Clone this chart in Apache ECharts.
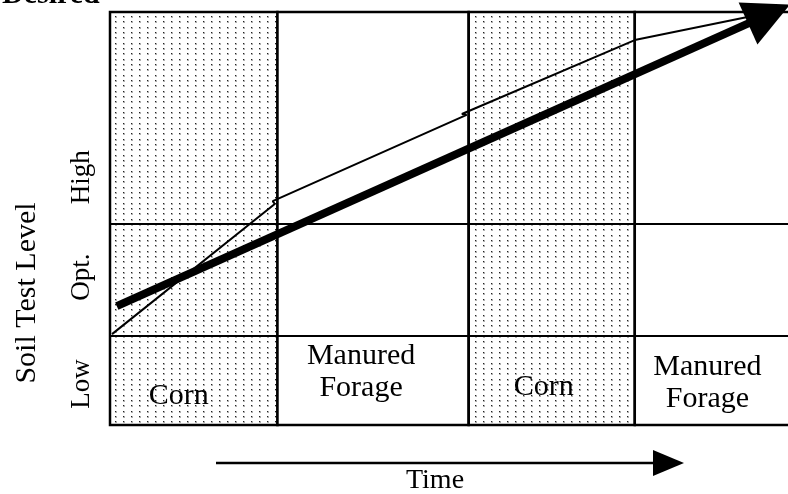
<!DOCTYPE html>
<html>
<head>
<meta charset="utf-8">
<script src="https://cdn.jsdelivr.net/npm/echarts@6/dist/echarts.min.js"></script>
<style>
  html, body { margin: 0; padding: 0; background: #fff; }
  #soilChart { width: 788px; height: 494px; }
</style>
</head>
<body>
<div id="soilChart"></div>
<script>
// crop blocks along the time axis (0-100)
var crops = ['Corn', 'Manured\nForage', 'Corn', 'Manured\nForage'];
var cropStart = [0, 24.7, 52.9, 77.4];
var cropEnd = [24.7, 52.9, 77.4, 100];
var cropShaded = [true, false, true, false];

// soil test level bands (0-100)
var levelNames = ['Low', 'Opt.', 'High'];
var levelTicks = [9.9, 35.8, 60.0];
var levelBounds = [21.5, 48.7];

// actual level (saw-tooth) and the trend arrow
var actualTime = [0.3, 24.3, 24.0, 52.6, 51.9, 77.4, 97.1];
var actualLevel = [22.0, 53.5, 54.2, 75.1, 75.3, 93.2, 99.8];
var trendTime = [1.0, 97.2];
var trendLevel = [28.8, 99.5];

// label nudges inside each crop block (px)
var labelNudge = [[-15, 16], [-12, -8], [-8, 7], [-5, 3]];

var serif = '"Liberation Serif", "Times New Roman", serif';

// dotted fill for the corn blocks
var tile = document.createElement('canvas');
tile.width = 8;
tile.height = 16;
var tc = tile.getContext('2d');
[0, 5, 11].forEach(function (y) {
  tc.fillStyle = '#b0b0b0';
  tc.fillRect(3, y, 2, 2);
  tc.fillStyle = '#222';
  tc.fillRect(3, y, 1, 1);
});
var dots = { image: tile, repeat: 'repeat' };

var blockData = crops.map(function (c, i) {
  return [cropStart[i], cropEnd[i], cropShaded[i] ? 1 : 0, i];
});
var actualData = actualTime.map(function (t, i) { return [t, actualLevel[i]]; });

var myChart = echarts.init(document.getElementById('soilChart'));
myChart.setOption({
  animation: false,
  backgroundColor: '#fff',
  grid: { left: 110, right: -2, top: 12, bottom: 69 },
  xAxis: { type: 'value', min: 0, max: 100, show: false },
  yAxis: {
    type: 'value',
    min: 0,
    max: 100,
    axisLine: { show: false },
    axisTick: { show: false },
    splitLine: { show: false },
    axisLabel: {
      customValues: levelTicks,
      rotate: 90,
      margin: 15,
      color: '#000',
      fontFamily: serif,
      fontSize: 27,
      formatter: function (v) {
        var k = levelTicks.indexOf(v);
        return k >= 0 ? levelNames[k] : '';
      }
    }
  },
  graphic: [
    {
      // title cut off by the top of the picture
      type: 'text', x: 2, y: 10,
      style: { text: 'Desired', font: 'bold 30px ' + serif, fill: '#000', verticalAlign: 'bottom' }
    },
    {
      type: 'text', x: 27, y: 293, rotation: Math.PI / 2,
      style: { text: 'Soil Test Level', font: '30px ' + serif, fill: '#000', align: 'center', verticalAlign: 'middle' }
    },
    {
      type: 'line',
      shape: { x1: 216, y1: 463, x2: 660, y2: 463 },
      style: { stroke: '#000', lineWidth: 2.5 }
    },
    {
      type: 'polygon',
      shape: { points: [[653, 450], [684, 463], [653, 476]] },
      style: { fill: '#000' }
    },
    {
      type: 'text', x: 435, y: 481,
      style: { text: 'Time', font: '28px ' + serif, fill: '#000', align: 'center', verticalAlign: 'middle' }
    }
  ],
  series: [
    {
      type: 'custom',
      z: 1,
      data: blockData,
      renderItem: function (params, api) {
        var i = api.value(3);
        var tl = api.coord([api.value(0), 100]);
        var br = api.coord([api.value(1), 0]);
        // the last block runs off the right edge of the picture
        if (api.value(1) >= 100) br[0] += 8;
        var lowTop = api.coord([0, levelBounds[0]])[1];
        var cx = (tl[0] + Math.min(br[0], 790)) / 2 + labelNudge[i][0];
        var cy = (lowTop + br[1]) / 2 + labelNudge[i][1];
        return {
          type: 'group',
          children: [
            {
              type: 'rect',
              shape: { x: tl[0], y: tl[1], width: br[0] - tl[0], height: br[1] - tl[1] },
              style: { fill: api.value(2) ? dots : '#fff', stroke: '#000', lineWidth: 2.5 }
            },
            {
              type: 'text',
              x: cx, y: cy,
              style: {
                text: crops[i], font: '30px ' + serif, fill: '#000',
                align: 'center', verticalAlign: 'middle', lineHeight: 32
              }
            }
          ]
        };
      },
      markLine: {
        silent: true,
        symbol: 'none',
        label: { show: false },
        lineStyle: { color: '#000', width: 2, type: 'solid' },
        data: levelBounds.map(function (b) { return { yAxis: b }; })
      }
    },
    {
      type: 'line',
      z: 3,
      data: actualData,
      showSymbol: false,
      lineStyle: { color: '#000', width: 2 }
    },
    {
      type: 'lines',
      coordinateSystem: 'cartesian2d',
      z: 4,
      clip: false,
      symbol: ['none', 'triangle'],
      symbolSize: [0, 46],
      lineStyle: { color: '#000', width: 8, opacity: 1 },
      data: [{ coords: [[trendTime[0], trendLevel[0]], [trendTime[1], trendLevel[1]]] }]
    }
  ]
});
</script>
</body>
</html>
